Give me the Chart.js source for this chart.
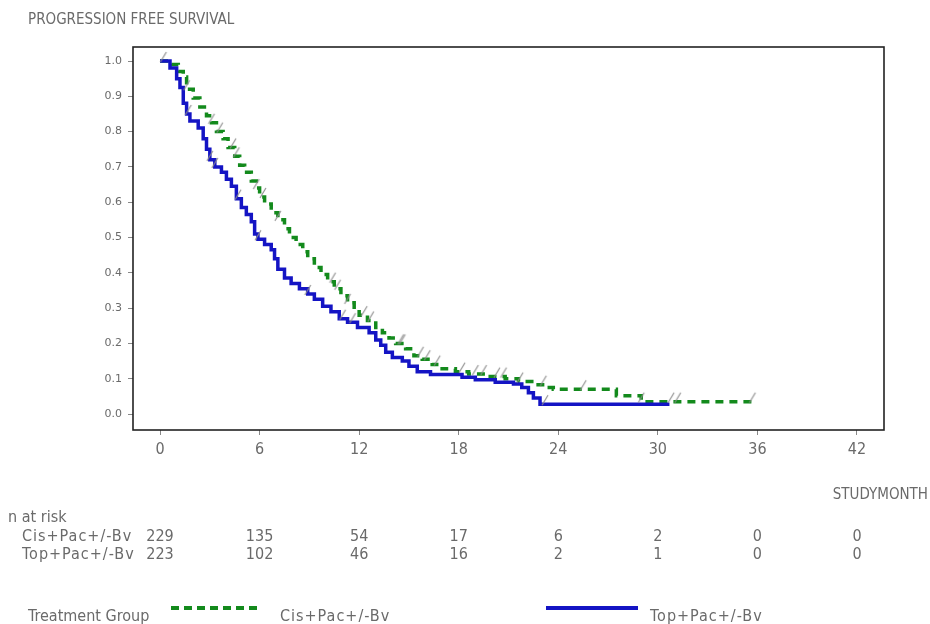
<!DOCTYPE html>
<html>
<head>
<meta charset="utf-8">
<title>Progression free survival</title>
<script src="https://cdn.jsdelivr.net/npm/chart.js@4.4.1/dist/chart.umd.min.js"></script>
<style>
html, body { margin: 0; padding: 0; background: #fff; }
#wrap { position: relative; width: 930px; height: 624px; }
</style>
</head>
<body>
<div id="wrap"><canvas id="pfs" width="930" height="624"></canvas></div>
<script>
// Kaplan-Meier progression free survival, two treatment groups

const monthTicks = [0, 6, 12, 18, 24, 30, 36, 42];
const survTicks = [0, 0.1, 0.2, 0.3, 0.4, 0.5, 0.6, 0.7, 0.8, 0.9, 1.0];
const groupNames = ['Cis+Pac+/-Bv', 'Top+Pac+/-Bv'];

// Cis+Pac+/-Bv: step times (months) and survival after each step
const cisMonths = [0, 0.7, 1.1, 1.4, 1.6, 2.0, 2.4, 2.8, 3.1, 3.4, 3.8, 4.1, 4.5, 4.8, 5.1, 5.5, 5.8, 6.0, 6.3, 6.7,
    7.1, 7.5, 7.8, 8.2, 8.6, 8.9, 9.3, 9.7, 10.1, 10.5, 10.9, 11.3, 11.7, 12.0, 12.5, 13.0, 13.4, 13.8, 14.2, 14.8,
    15.3, 15.8, 16.4, 17.0, 17.8, 18.6, 19.6, 20.8, 21.6, 22.6, 23.3, 23.7, 27.5, 29.0, 35.7];
const cisSurv = [1.0, 0.99, 0.97, 0.955, 0.92, 0.895, 0.87, 0.845, 0.825, 0.80, 0.78, 0.755, 0.73, 0.705, 0.685, 0.66, 0.64, 0.615, 0.595, 0.57,
    0.55, 0.525, 0.50, 0.48, 0.46, 0.44, 0.415, 0.395, 0.375, 0.355, 0.335, 0.315, 0.295, 0.28, 0.265, 0.245, 0.23, 0.215, 0.20, 0.185,
    0.165, 0.155, 0.14, 0.128, 0.12, 0.113, 0.106, 0.10, 0.092, 0.083, 0.075, 0.07, 0.052, 0.035, 0.035];
const cisCensored = [0.2, 1.6, 3.1, 3.6, 4.4, 4.6, 5.8, 6.2, 7.1, 10.4, 10.7, 11.3, 12.3, 12.7, 14.5, 14.6, 15.7, 16.1, 16.7,
    18.2, 19.0, 19.5, 20.3, 20.7, 21.7, 23.1, 25.5, 29.0, 30.8, 31.2, 35.7];

// Top+Pac+/-Bv
const topMonths = [0, 0.6, 1.0, 1.2, 1.4, 1.6, 1.8, 2.3, 2.6, 2.8, 3.0, 3.3, 3.7, 4.0, 4.3, 4.6, 4.9, 5.2, 5.5, 5.7,
    5.9, 6.3, 6.7, 6.9, 7.1, 7.5, 7.9, 8.4, 8.9, 9.3, 9.8, 10.3, 10.8, 11.3, 11.9, 12.6, 13.0, 13.3, 13.6, 14.0,
    14.6, 15.0, 15.5, 16.3, 18.2, 19.0, 20.2, 21.3, 21.8, 22.2, 22.5, 22.9, 30.7];
const topSurv = [1.0, 0.98, 0.95, 0.925, 0.88, 0.85, 0.83, 0.81, 0.78, 0.75, 0.72, 0.70, 0.685, 0.665, 0.645, 0.61, 0.585, 0.565, 0.545, 0.51,
    0.495, 0.48, 0.465, 0.44, 0.41, 0.385, 0.37, 0.355, 0.34, 0.325, 0.305, 0.29, 0.27, 0.26, 0.245, 0.23, 0.21, 0.195, 0.175, 0.16,
    0.15, 0.135, 0.12, 0.112, 0.104, 0.097, 0.09, 0.085, 0.075, 0.06, 0.045, 0.028, 0.028];
const topCensored = [1.7, 3.0, 3.3, 4.7, 5.9, 8.9, 11.0, 11.6, 23.2];

// numbers at risk at each tick month
const riskCis = [229, 135, 54, 17, 6, 2, 0, 0];
const riskTop = [223, 102, 46, 16, 2, 1, 0, 0];

const cisColor = '#138a1c';
const topColor = '#1414c4';
const textColor = '#6a6a6a';
const narrow = '"Liberation Sans Narrow", "DejaVu Sans Condensed", "Liberation Sans", sans-serif';

function stepPoints(months, surv) {
    return months.map((m, i) => ({ x: m, y: surv[i] }));
}

function survAt(months, surv, t) {
    let s = surv[0];
    for (let i = 0; i < months.length; i++) {
        if (months[i] <= t) s = surv[i];
    }
    return s;
}

function censorPoints(times, months, surv) {
    return times.map(t => ({ x: t, y: survAt(months, surv, t) }));
}

// small "/" used for censored observations
function slashMark() {
    const c = document.createElement('canvas');
    c.width = 10;
    c.height = 24;
    const g = c.getContext('2d');
    g.strokeStyle = '#8c8c8c';
    g.lineWidth = 1.1;
    g.beginPath();
    g.moveTo(2, 13);
    g.lineTo(8, 3);
    g.stroke();
    return c;
}
const slash = slashMark();

// frame, risk table, title and legend
const decorations = {
    id: 'decorations',
    afterDraw(chart) {
        const ctx = chart.ctx;
        const area = chart.chartArea;
        const xs = chart.scales.x;
        ctx.save();

        ctx.strokeStyle = '#222';
        ctx.lineWidth = 1.6;
        ctx.strokeRect(area.left, area.top, area.right - area.left, area.bottom - area.top);

        ctx.fillStyle = textColor;
        ctx.textBaseline = 'alphabetic';
        ctx.font = '15px ' + narrow;
        ctx.textAlign = 'left';
        ctx.fillText('PROGRESSION FREE SURVIVAL', 28, 24);
        ctx.textAlign = 'right';
        ctx.fillText('STUDYMONTH', 928, 499);

        ctx.font = '16px ' + narrow;
        ctx.textAlign = 'left';
        ctx.fillText('n at risk', 8, 522);
        ctx.letterSpacing = '1px';
        ctx.fillText(groupNames[0], 22, 541);
        ctx.fillText(groupNames[1], 22, 559);
        ctx.letterSpacing = '0px';

        ctx.textAlign = 'center';
        monthTicks.forEach((m, i) => {
            const px = xs.getPixelForValue(m);
            ctx.fillText(String(riskCis[i]), px, 541);
            ctx.fillText(String(riskTop[i]), px, 559);
        });

        // legend row
        ctx.textAlign = 'left';
        ctx.fillText('Treatment Group', 28, 621);
        ctx.letterSpacing = '1px';
        ctx.fillText(groupNames[0], 280, 621);
        ctx.fillText(groupNames[1], 650, 621);
        ctx.letterSpacing = '0px';

        ctx.lineWidth = 4;
        ctx.strokeStyle = cisColor;
        ctx.setLineDash([8, 5]);
        ctx.beginPath();
        ctx.moveTo(171, 608);
        ctx.lineTo(262, 608);
        ctx.stroke();

        ctx.setLineDash([]);
        ctx.strokeStyle = topColor;
        ctx.beginPath();
        ctx.moveTo(546, 608);
        ctx.lineTo(638, 608);
        ctx.stroke();

        ctx.restore();
    }
};

new Chart(document.getElementById('pfs'), {
    type: 'line',
    data: {
        datasets: [
            {
                label: groupNames[1] + ' censored',
                type: 'scatter',
                data: censorPoints(topCensored, topMonths, topSurv),
                pointStyle: slash,
                order: 0
            },
            {
                label: groupNames[0] + ' censored',
                type: 'scatter',
                data: censorPoints(cisCensored, cisMonths, cisSurv),
                pointStyle: slash,
                order: 0
            },
            {
                label: groupNames[1],
                data: stepPoints(topMonths, topSurv),
                stepped: true,
                borderColor: topColor,
                borderWidth: 3.5,
                pointRadius: 0,
                fill: false,
                order: 1
            },
            {
                label: groupNames[0],
                data: stepPoints(cisMonths, cisSurv),
                stepped: true,
                borderColor: cisColor,
                borderWidth: 3.5,
                borderDash: [8, 6],
                pointRadius: 0,
                fill: false,
                order: 2
            }
        ]
    },
    options: {
        responsive: false,
        animation: false,
        events: [],
        layout: { padding: { left: 0, top: 47, right: 46, bottom: 164 } },
        plugins: {
            legend: { display: false },
            tooltip: { enabled: false }
        },
        scales: {
            x: {
                type: 'linear',
                min: -1.63,
                max: 43.63,
                afterBuildTicks: s => { s.ticks = monthTicks.map(v => ({ value: v })); },
                afterFit: s => { s.height = 30; },
                border: { display: false },
                grid: { drawOnChartArea: false, drawTicks: true, tickLength: 5, color: '#888' },
                ticks: {
                    padding: 5,
                    color: textColor,
                    font: { family: narrow, size: 16 },
                    maxRotation: 0
                }
            },
            y: {
                type: 'linear',
                min: -0.0453,
                max: 1.0397,
                afterBuildTicks: s => { s.ticks = survTicks.map(v => ({ value: v })); },
                afterFit: s => { s.width = 133; },
                border: { display: false },
                grid: { drawOnChartArea: false, drawTicks: true, tickLength: 5, color: '#888' },
                ticks: {
                    padding: 6,
                    color: '#6a6a6a',
                    font: { family: '"DejaVu Sans", sans-serif', size: 11 },
                    callback: v => v.toFixed(1)
                }
            }
        }
    },
    plugins: [decorations]
});
</script>
</body>
</html>
